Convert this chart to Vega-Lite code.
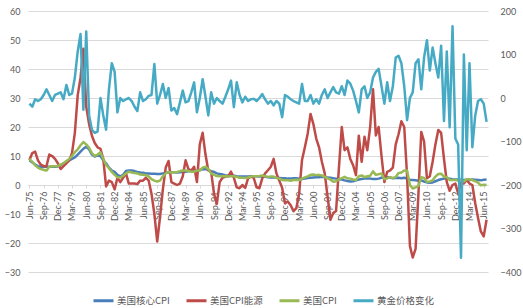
{
"$schema": "https://vega.github.io/schema/vega-lite/v6.json",
"width": 460, "height": 261,
"autosize": "none",
"padding": {"left": 28, "top": 11, "right": 35, "bottom": 36},
"background": "white",
"config": {"view": {"stroke": null}, "font": "Lato",
 "axis": {"labelColor": "#595959", "labelFontSize": 9, "labelFont": "Lato", "title": null, "labelOverlap": false}},
"data": {"values": [
{"d":"1975-06-01","core":8.5,"energy":8.6,"cpi":9,"gold":-13},
{"d":"1975-09-01","core":7.8,"energy":11,"cpi":8,"gold":-20},
{"d":"1975-12-01","core":7,"energy":11.5,"cpi":6.8,"gold":-3},
{"d":"1976-03-01","core":6.5,"energy":8.5,"cpi":6,"gold":-7},
{"d":"1976-06-01","core":6.3,"energy":7,"cpi":5.5,"gold":-3},
{"d":"1976-09-01","core":6.2,"energy":6.5,"cpi":5.2,"gold":7},
{"d":"1976-12-01","core":6.3,"energy":6.5,"cpi":5,"gold":20},
{"d":"1977-03-01","core":6.3,"energy":10.5,"cpi":6.3,"gold":7},
{"d":"1977-06-01","core":6.4,"energy":10,"cpi":6.5,"gold":-7},
{"d":"1977-09-01","core":6.3,"energy":9,"cpi":6.5,"gold":7},
{"d":"1977-12-01","core":6.4,"energy":7.5,"cpi":6.5,"gold":10},
{"d":"1978-03-01","core":6.8,"energy":5.5,"cpi":7,"gold":13},
{"d":"1978-06-01","core":7.5,"energy":6.5,"cpi":7.5,"gold":-3},
{"d":"1978-09-01","core":8,"energy":7.5,"cpi":8.3,"gold":30},
{"d":"1978-12-01","core":8.5,"energy":8.5,"cpi":9,"gold":7},
{"d":"1979-03-01","core":9,"energy":11,"cpi":10,"gold":10},
{"d":"1979-06-01","core":9.5,"energy":18,"cpi":11.3,"gold":47},
{"d":"1979-09-01","core":10.5,"energy":31,"cpi":12.3,"gold":107},
{"d":"1979-12-01","core":11.5,"energy":37,"cpi":13.7,"gold":147},
{"d":"1980-03-01","core":12.5,"energy":47,"cpi":14.8,"gold":-27},
{"d":"1980-06-01","core":13.2,"energy":27,"cpi":14,"gold":153},
{"d":"1980-09-01","core":12.3,"energy":21,"cpi":12.8,"gold":-40},
{"d":"1980-12-01","core":10.5,"energy":17,"cpi":11,"gold":-73},
{"d":"1981-03-01","core":9.8,"energy":14.5,"cpi":10,"gold":-80},
{"d":"1981-06-01","core":10.2,"energy":13,"cpi":10.5,"gold":-77},
{"d":"1981-09-01","core":10,"energy":12.5,"cpi":11.3,"gold":0},
{"d":"1981-12-01","core":8.5,"energy":9,"cpi":9,"gold":-40},
{"d":"1982-03-01","core":7.5,"energy":-0.5,"cpi":7,"gold":-73},
{"d":"1982-06-01","core":6,"energy":1.5,"cpi":5.8,"gold":20},
{"d":"1982-09-01","core":5,"energy":1,"cpi":4.5,"gold":80},
{"d":"1982-12-01","core":4.5,"energy":-1.5,"cpi":3.5,"gold":60},
{"d":"1983-03-01","core":3.5,"energy":2.5,"cpi":2.7,"gold":-33},
{"d":"1983-06-01","core":3,"energy":1,"cpi":2.6,"gold":0},
{"d":"1983-09-01","core":3.5,"energy":2.5,"cpi":3.2,"gold":-7},
{"d":"1983-12-01","core":4.8,"energy":4,"cpi":4,"gold":-3},
{"d":"1984-03-01","core":5,"energy":0.5,"cpi":4.6,"gold":0},
{"d":"1984-06-01","core":5,"energy":0.5,"cpi":4.3,"gold":-7},
{"d":"1984-09-01","core":4.8,"energy":0.5,"cpi":4.1,"gold":-20},
{"d":"1984-12-01","core":4.5,"energy":0.3,"cpi":4,"gold":-30},
{"d":"1985-03-01","core":4.3,"energy":1.5,"cpi":3.6,"gold":13},
{"d":"1985-06-01","core":4.2,"energy":1.5,"cpi":3.5,"gold":-7},
{"d":"1985-09-01","core":4,"energy":2.5,"cpi":3.4,"gold":-3},
{"d":"1985-12-01","core":4,"energy":1.5,"cpi":3,"gold":5},
{"d":"1986-03-01","core":3.9,"energy":-3,"cpi":2,"gold":7},
{"d":"1986-06-01","core":3.9,"energy":-10,"cpi":1.5,"gold":78},
{"d":"1986-09-01","core":3.8,"energy":-19.5,"cpi":1.2,"gold":-13},
{"d":"1986-12-01","core":3.8,"energy":-11,"cpi":1.5,"gold":7},
{"d":"1987-03-01","core":4,"energy":-1.5,"cpi":3,"gold":32},
{"d":"1987-06-01","core":4.2,"energy":6,"cpi":4,"gold":0},
{"d":"1987-09-01","core":4.3,"energy":8.3,"cpi":4.5,"gold":23},
{"d":"1987-12-01","core":4.4,"energy":1,"cpi":4.3,"gold":-29},
{"d":"1988-03-01","core":4.4,"energy":0.5,"cpi":4.4,"gold":-23},
{"d":"1988-06-01","core":4.3,"energy":0,"cpi":4.5,"gold":-37},
{"d":"1988-09-01","core":4.4,"energy":0.5,"cpi":4.8,"gold":-10},
{"d":"1988-12-01","core":4.5,"energy":3,"cpi":5,"gold":17},
{"d":"1989-03-01","core":4.6,"energy":8.5,"cpi":5,"gold":-10},
{"d":"1989-06-01","core":4.7,"energy":5.5,"cpi":4.8,"gold":-7},
{"d":"1989-09-01","core":4.8,"energy":5,"cpi":4.6,"gold":13},
{"d":"1989-12-01","core":4.9,"energy":6.3,"cpi":4.6,"gold":36},
{"d":"1990-03-01","core":5,"energy":1,"cpi":5,"gold":-33},
{"d":"1990-06-01","core":5.2,"energy":14,"cpi":5,"gold":0},
{"d":"1990-09-01","core":5.4,"energy":18,"cpi":6,"gold":43},
{"d":"1990-12-01","core":5.5,"energy":10.5,"cpi":6.3,"gold":3},
{"d":"1991-03-01","core":5.2,"energy":5,"cpi":5.5,"gold":-40},
{"d":"1991-06-01","core":4.8,"energy":4.5,"cpi":4,"gold":13},
{"d":"1991-09-01","core":4.5,"energy":-3,"cpi":3.5,"gold":-13},
{"d":"1991-12-01","core":4,"energy":-6.5,"cpi":3.1,"gold":0},
{"d":"1992-03-01","core":3.8,"energy":1,"cpi":3,"gold":-7},
{"d":"1992-06-01","core":3.6,"energy":2.5,"cpi":3,"gold":-13},
{"d":"1992-09-01","core":3.4,"energy":2.9,"cpi":3.1,"gold":3},
{"d":"1992-12-01","core":3.3,"energy":3,"cpi":2.9,"gold":20},
{"d":"1993-03-01","core":3.2,"energy":4.6,"cpi":3,"gold":40},
{"d":"1993-06-01","core":3.2,"energy":2.5,"cpi":3,"gold":-21},
{"d":"1993-09-01","core":3,"energy":-0.8,"cpi":2.8,"gold":36},
{"d":"1993-12-01","core":2.9,"energy":-1.1,"cpi":2.5,"gold":7},
{"d":"1994-03-01","core":2.9,"energy":0,"cpi":2.5,"gold":-10},
{"d":"1994-06-01","core":2.9,"energy":-1,"cpi":2.4,"gold":3},
{"d":"1994-09-01","core":2.9,"energy":2.3,"cpi":2.6,"gold":-7},
{"d":"1994-12-01","core":3,"energy":2.9,"cpi":2.9,"gold":-3},
{"d":"1995-03-01","core":3,"energy":2.5,"cpi":3,"gold":-2},
{"d":"1995-06-01","core":3,"energy":-0.8,"cpi":3,"gold":-7},
{"d":"1995-09-01","core":2.9,"energy":-1.1,"cpi":3.1,"gold":0},
{"d":"1995-12-01","core":2.9,"energy":2.3,"cpi":3.3,"gold":9},
{"d":"1996-03-01","core":2.8,"energy":4,"cpi":3,"gold":-3},
{"d":"1996-06-01","core":2.7,"energy":5.1,"cpi":2.8,"gold":-13},
{"d":"1996-09-01","core":2.6,"energy":6.3,"cpi":2.9,"gold":-7},
{"d":"1996-12-01","core":2.6,"energy":9,"cpi":2.9,"gold":-17},
{"d":"1997-03-01","core":2.5,"energy":4,"cpi":2.4,"gold":-7},
{"d":"1997-06-01","core":2.4,"energy":1.5,"cpi":2.2,"gold":-13},
{"d":"1997-09-01","core":2.3,"energy":-1,"cpi":1.7,"gold":-44},
{"d":"1997-12-01","core":2.3,"energy":-6.3,"cpi":1.6,"gold":7},
{"d":"1998-03-01","core":2.2,"energy":-5.7,"cpi":1.6,"gold":3},
{"d":"1998-06-01","core":2.2,"energy":-7,"cpi":1.5,"gold":-3},
{"d":"1998-09-01","core":2.3,"energy":-9,"cpi":1.7,"gold":-7},
{"d":"1998-12-01","core":2.3,"energy":-8,"cpi":1.8,"gold":-10},
{"d":"1999-03-01","core":2.2,"energy":-3,"cpi":1.7,"gold":-13},
{"d":"1999-06-01","core":2.1,"energy":8.6,"cpi":2.2,"gold":32},
{"d":"1999-09-01","core":2.2,"energy":13,"cpi":2.6,"gold":-7},
{"d":"1999-12-01","core":2.4,"energy":17.7,"cpi":3,"gold":-7},
{"d":"2000-03-01","core":2.5,"energy":24.5,"cpi":3.5,"gold":7},
{"d":"2000-06-01","core":2.6,"energy":21,"cpi":3.6,"gold":-13},
{"d":"2000-09-01","core":2.7,"energy":16,"cpi":3.4,"gold":-3},
{"d":"2000-12-01","core":2.7,"energy":13,"cpi":3.5,"gold":-13},
{"d":"2001-03-01","core":2.8,"energy":8,"cpi":3.3,"gold":7},
{"d":"2001-06-01","core":2.7,"energy":4,"cpi":2.8,"gold":20},
{"d":"2001-09-01","core":2.6,"energy":-4,"cpi":2.3,"gold":0},
{"d":"2001-12-01","core":2.5,"energy":-12,"cpi":1.9,"gold":13},
{"d":"2002-03-01","core":2.3,"energy":-9.7,"cpi":1.1,"gold":25},
{"d":"2002-06-01","core":2.2,"energy":-9,"cpi":1.3,"gold":13},
{"d":"2002-09-01","core":2,"energy":6,"cpi":2,"gold":10},
{"d":"2002-12-01","core":1.9,"energy":20,"cpi":2.4,"gold":27},
{"d":"2003-03-01","core":1.6,"energy":12,"cpi":2.8,"gold":7},
{"d":"2003-06-01","core":1.4,"energy":13,"cpi":2.3,"gold":40},
{"d":"2003-09-01","core":1.2,"energy":9,"cpi":2.2,"gold":33},
{"d":"2003-12-01","core":1.3,"energy":6.8,"cpi":1.9,"gold":17},
{"d":"2004-03-01","core":1.6,"energy":3.4,"cpi":1.7,"gold":-7},
{"d":"2004-06-01","core":1.9,"energy":17,"cpi":3,"gold":-33},
{"d":"2004-09-01","core":2.1,"energy":8,"cpi":3.3,"gold":20},
{"d":"2004-12-01","core":2.2,"energy":16.6,"cpi":2.7,"gold":27},
{"d":"2005-03-01","core":2.2,"energy":12,"cpi":3,"gold":0},
{"d":"2005-06-01","core":2.2,"energy":20,"cpi":3.2,"gold":13},
{"d":"2005-09-01","core":2.1,"energy":33,"cpi":4.7,"gold":47},
{"d":"2005-12-01","core":2.1,"energy":17.1,"cpi":3.5,"gold":60},
{"d":"2006-03-01","core":2.2,"energy":20,"cpi":3.7,"gold":67},
{"d":"2006-06-01","core":2.5,"energy":10,"cpi":4,"gold":27},
{"d":"2006-09-01","core":2.8,"energy":1,"cpi":2,"gold":-13},
{"d":"2006-12-01","core":2.7,"energy":4.5,"cpi":2.3,"gold":36},
{"d":"2007-03-01","core":2.6,"energy":5,"cpi":2.7,"gold":-7},
{"d":"2007-06-01","core":2.3,"energy":6,"cpi":2.4,"gold":27},
{"d":"2007-09-01","core":2.4,"energy":14,"cpi":2.8,"gold":93},
{"d":"2007-12-01","core":2.5,"energy":17.5,"cpi":4.1,"gold":97},
{"d":"2008-03-01","core":2.3,"energy":22,"cpi":4.3,"gold":80},
{"d":"2008-06-01","core":2.5,"energy":20,"cpi":5,"gold":27},
{"d":"2008-09-01","core":2.2,"energy":3,"cpi":5,"gold":-51},
{"d":"2008-12-01","core":1.8,"energy":-21,"cpi":0,"gold":0},
{"d":"2009-03-01","core":1.7,"energy":-25,"cpi":-1.2,"gold":13},
{"d":"2009-06-01","core":1.6,"energy":-22,"cpi":-0.8,"gold":80},
{"d":"2009-09-01","core":1.5,"energy":-3,"cpi":-0.3,"gold":89},
{"d":"2009-12-01","core":1.6,"energy":18.3,"cpi":2.7,"gold":20},
{"d":"2010-03-01","core":1.2,"energy":15,"cpi":2.4,"gold":93},
{"d":"2010-06-01","core":0.9,"energy":2.3,"cpi":1.1,"gold":133},
{"d":"2010-09-01","core":0.8,"energy":3,"cpi":1.2,"gold":63},
{"d":"2010-12-01","core":0.9,"energy":8,"cpi":1.6,"gold":116},
{"d":"2011-03-01","core":1.3,"energy":14,"cpi":2.9,"gold":80},
{"d":"2011-06-01","core":1.7,"energy":19,"cpi":3.8,"gold":47},
{"d":"2011-09-01","core":2,"energy":18,"cpi":3.9,"gold":120},
{"d":"2011-12-01","core":2.2,"energy":9,"cpi":2.9,"gold":-53},
{"d":"2012-03-01","core":2.3,"energy":1,"cpi":2.7,"gold":107},
{"d":"2012-06-01","core":2.2,"energy":-2,"cpi":1.7,"gold":-67},
{"d":"2012-09-01","core":2,"energy":0,"cpi":1.7,"gold":165},
{"d":"2012-12-01","core":1.9,"energy":0.5,"cpi":1.7,"gold":-93},
{"d":"2013-03-01","core":1.9,"energy":-2.9,"cpi":1.5,"gold":-107},
{"d":"2013-06-01","core":1.7,"energy":0.8,"cpi":1.8,"gold":-367},
{"d":"2013-09-01","core":1.7,"energy":0.5,"cpi":1.2,"gold":100},
{"d":"2013-12-01","core":1.8,"energy":1.7,"cpi":2,"gold":-120},
{"d":"2014-03-01","core":1.7,"energy":0.5,"cpi":2,"gold":80},
{"d":"2014-06-01","core":1.9,"energy":0,"cpi":1.7,"gold":-113},
{"d":"2014-09-01","core":1.8,"energy":-6.3,"cpi":1.3,"gold":-40},
{"d":"2014-12-01","core":1.7,"energy":-11.4,"cpi":0.8,"gold":-7},
{"d":"2015-03-01","core":1.6,"energy":-16,"cpi":-0.1,"gold":-3},
{"d":"2015-06-01","core":1.8,"energy":-17.7,"cpi":0.1,"gold":-13},
{"d":"2015-09-01","core":1.9,"energy":-12,"cpi":0,"gold":-55}
]},
"encoding": {
 "x": {"field": "d", "type": "temporal",
  "scale": {"type": "utc", "domain": [{"year":1975,"month":4,"date":16,"utc":true},{"year":2015,"month":10,"date":17,"utc":true}]},
  "axis": {"format": "%b-%y", "labelAngle": 270, "labelPadding": 3, "labelOverlap": false, "labelFlush": false,
   "grid": false, "domainColor": "#D9D9D9", "ticks": true, "tickColor": "#D9D9D9", "tickSize": 3, "offset": -87, "tickCount": 40,
   "values": [
    {"year":1975,"month":6,"date":1,"utc":true},{"year":1976,"month":9,"date":1,"utc":true},{"year":1977,"month":12,"date":1,"utc":true},
    {"year":1979,"month":3,"date":1,"utc":true},{"year":1980,"month":6,"date":1,"utc":true},{"year":1981,"month":9,"date":1,"utc":true},
    {"year":1982,"month":12,"date":1,"utc":true},{"year":1984,"month":3,"date":1,"utc":true},{"year":1985,"month":6,"date":1,"utc":true},
    {"year":1986,"month":9,"date":1,"utc":true},{"year":1987,"month":12,"date":1,"utc":true},{"year":1989,"month":3,"date":1,"utc":true},
    {"year":1990,"month":6,"date":1,"utc":true},{"year":1991,"month":9,"date":1,"utc":true},{"year":1992,"month":12,"date":1,"utc":true},
    {"year":1994,"month":3,"date":1,"utc":true},{"year":1995,"month":6,"date":1,"utc":true},{"year":1996,"month":9,"date":1,"utc":true},
    {"year":1997,"month":12,"date":1,"utc":true},{"year":1999,"month":3,"date":1,"utc":true},{"year":2000,"month":6,"date":1,"utc":true},
    {"year":2001,"month":9,"date":1,"utc":true},{"year":2002,"month":12,"date":1,"utc":true},{"year":2004,"month":3,"date":1,"utc":true},
    {"year":2005,"month":6,"date":1,"utc":true},{"year":2006,"month":9,"date":1,"utc":true},{"year":2007,"month":12,"date":1,"utc":true},
    {"year":2009,"month":3,"date":1,"utc":true},{"year":2010,"month":6,"date":1,"utc":true},{"year":2011,"month":9,"date":1,"utc":true},
    {"year":2012,"month":12,"date":1,"utc":true},{"year":2014,"month":3,"date":1,"utc":true},{"year":2015,"month":6,"date":1,"utc":true}
   ]}}
},
"layer": [
 {"layer": [
   {"mark": {"type": "line", "strokeWidth": 2.5, "strokeJoin": "round"},
    "encoding": {"y": {"field": "core", "type": "quantitative",
       "scale": {"domain": [-30, 60], "nice": false, "zero": false},
       "axis": {"values": [-30,-20,-10,0,10,20,30,40,50,60], "tickCount": 20, "grid": true, "gridColor": "#D9D9D9", "domain": false, "ticks": false, "labelPadding": 8, "labelOverlap": false}},
     "color": {"datum": "美国核心CPI", "type": "nominal"}}},
   {"mark": {"type": "line", "strokeWidth": 2.5, "strokeJoin": "round"},
    "encoding": {"y": {"field": "energy", "type": "quantitative"},
     "color": {"datum": "美国CPI能源", "type": "nominal"}}},
   {"mark": {"type": "line", "strokeWidth": 2.5, "strokeJoin": "round"},
    "encoding": {"y": {"field": "cpi", "type": "quantitative"},
     "color": {"datum": "美国CPI", "type": "nominal"}}}
 ]},
 {"mark": {"type": "line", "strokeWidth": 2.5, "strokeJoin": "round"},
  "encoding": {"y": {"field": "gold", "type": "quantitative",
     "scale": {"domain": [-400, 200], "nice": false, "zero": false},
     "axis": {"orient": "right", "values": [-400,-300,-200,-100,0,100,200], "tickCount": 20, "grid": false, "domain": false, "ticks": false, "labelPadding": 12, "labelOverlap": false}},
   "color": {"datum": "黄金价格变化", "type": "nominal",
     "scale": {"domain": ["美国核心CPI","美国CPI能源","美国CPI","黄金价格变化"], "range": ["#4A7EBB","#BE4B48","#98B954","#46AAC5"]},
     "legend": {"orient": "none", "legendX": 64, "legendY": 278, "direction": "horizontal", "title": null,
       "symbolType": "stroke", "symbolStrokeWidth": 3, "symbolSize": 400, "labelFont": "Noto Sans CJK SC",
       "labelFontSize": 9.5, "labelColor": "#595959", "labelOffset": 2, "columnPadding": 10}}}}
],
"resolve": {"scale": {"y": "independent"}}
}
